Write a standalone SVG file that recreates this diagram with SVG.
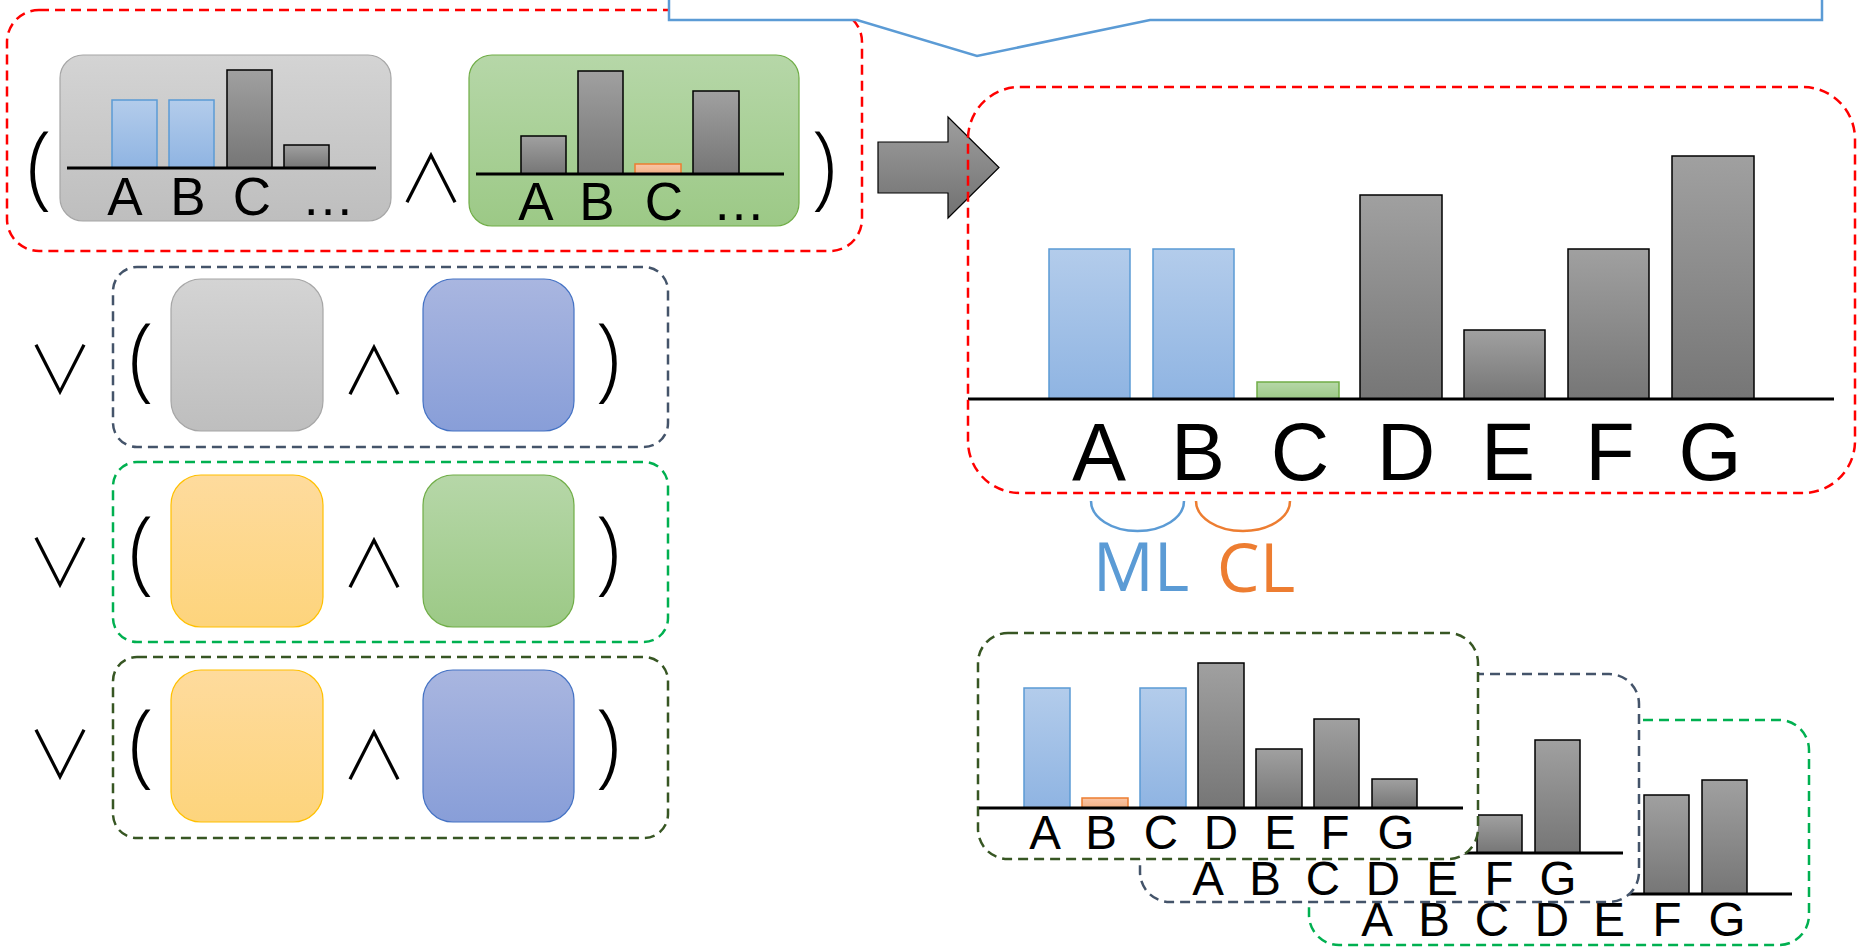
<svg xmlns="http://www.w3.org/2000/svg" width="1858" height="947" viewBox="0 0 1858 947">
  <defs>
    <linearGradient id="gBar" x1="0" y1="0" x2="0" y2="1">
      <stop offset="0" stop-color="#a0a0a0"/>
      <stop offset="1" stop-color="#767676"/>
    </linearGradient>
    <linearGradient id="gBlue" x1="0" y1="0" x2="0" y2="1">
      <stop offset="0" stop-color="#b3cceb"/>
      <stop offset="1" stop-color="#8fb4e2"/>
    </linearGradient>
    <linearGradient id="gGreen" x1="0" y1="0" x2="0" y2="1">
      <stop offset="0" stop-color="#b6d7a8"/>
      <stop offset="1" stop-color="#9cc986"/>
    </linearGradient>
    <linearGradient id="gOrange" x1="0" y1="0" x2="0" y2="1">
      <stop offset="0" stop-color="#f9c6a8"/>
      <stop offset="1" stop-color="#f4b183"/>
    </linearGradient>
    <linearGradient id="gGrayBox" x1="0" y1="0" x2="0" y2="1">
      <stop offset="0" stop-color="#d4d4d4"/>
      <stop offset="1" stop-color="#bebebe"/>
    </linearGradient>
    <linearGradient id="gBlueBox" x1="0" y1="0" x2="0" y2="1">
      <stop offset="0" stop-color="#a9b6e0"/>
      <stop offset="1" stop-color="#889ed8"/>
    </linearGradient>
    <linearGradient id="gYellow" x1="0" y1="0" x2="0" y2="1">
      <stop offset="0" stop-color="#fedb9d"/>
      <stop offset="1" stop-color="#fdd47c"/>
    </linearGradient>
    <linearGradient id="gArrow" x1="0" y1="0" x2="0" y2="1">
      <stop offset="0" stop-color="#9e9e9e"/>
      <stop offset="1" stop-color="#717171"/>
    </linearGradient>
  </defs>
  <style>
    .bar{fill:url(#gBar);stroke:#000;stroke-width:1.5}
    .bbar{fill:url(#gBlue);stroke:#5b9bd5;stroke-width:1.5}
    .gbar{fill:url(#gGreen);stroke:#70ad47;stroke-width:1.5}
    .obar{fill:url(#gOrange);stroke:#ed7d31;stroke-width:1.5}
    .axis{stroke:#000;stroke-width:3;fill:none}
    .lbl{font-family:"Liberation Sans",Arial,sans-serif;text-anchor:middle;fill:#000}
    .op{font-family:"Noto Sans CJK JP","DejaVu Sans",sans-serif;font-weight:300;font-size:66px;text-anchor:middle;fill:#000}
    .par{font-family:"Open Sans","Liberation Sans",sans-serif;font-weight:300;font-size:92px;text-anchor:middle;fill:#000}
    .dash{fill:none;stroke-width:2.5;stroke-dasharray:10 6}
    .card{fill:#fff;stroke-width:2.5;stroke-dasharray:10 6}
    .grayBox{fill:url(#gGrayBox);stroke:#a6a6a6;stroke-width:1.2}
    .greenBox{fill:url(#gGreen);stroke:#70ad47;stroke-width:1.2}
    .blueBox{fill:url(#gBlueBox);stroke:#4472c4;stroke-width:1.2}
    .yellowBox{fill:url(#gYellow);stroke:#ffc000;stroke-width:1.2}
  </style>

  <!-- first conjunction: gray histogram AND green histogram -->
  <g id="clause-1">
    <rect class="dash" x="7" y="10" width="855" height="241" rx="32" stroke="#ff0000"/>
    <text class="par" x="39" y="197">(</text>
    <g id="hist-gray">
      <rect class="grayBox" x="60" y="55" width="331" height="166" rx="23"/>
      <rect class="bbar" x="112" y="100" width="45" height="68"/>
      <rect class="bbar" x="169" y="100" width="45" height="68"/>
      <rect class="bar" x="227" y="70" width="45" height="98"/>
      <rect class="bar" x="284" y="145" width="45" height="23"/>
      <line class="axis" x1="67" y1="168" x2="376" y2="168"/>
      <g class="lbl" font-size="53">
        <text x="125" y="215">A</text>
        <text x="188" y="215">B</text>
        <text x="252" y="215">C</text>
        <text x="328" y="215">…</text>
      </g>
    </g>
    <text class="op" x="431" y="202">∧</text>
    <g id="hist-green">
      <rect class="greenBox" x="469" y="55" width="330" height="171" rx="23"/>
      <rect class="bar" x="521" y="136" width="45" height="38"/>
      <rect class="bar" x="578" y="71" width="45" height="103"/>
      <rect class="obar" x="635" y="164" width="46" height="10"/>
      <rect class="bar" x="693" y="91" width="46" height="83"/>
      <line class="axis" x1="476" y1="174" x2="784" y2="174"/>
      <g class="lbl" font-size="53">
        <text x="536" y="220">A</text>
        <text x="597" y="220">B</text>
        <text x="664" y="220">C</text>
        <text x="739" y="220">…</text>
      </g>
    </g>
    <text class="par" x="824" y="197">)</text>
  </g>

  <!-- remaining clauses -->
  <g id="clause-2">
    <rect class="dash" x="113" y="267" width="555" height="180" rx="24" stroke="#44546a"/>
    <text class="op" x="60" y="394">∨</text>
    <text class="par" x="141" y="389">(</text>
    <rect class="grayBox" x="171" y="279" width="152" height="152" rx="30"/>
    <text class="op" x="374" y="394">∧</text>
    <rect class="blueBox" x="423" y="279" width="151" height="152" rx="30"/>
    <text class="par" x="608" y="389">)</text>
  </g>
  <g id="clause-3">
    <rect class="dash" x="113" y="462" width="555" height="180" rx="24" stroke="#00b050"/>
    <text class="op" x="60" y="587">∨</text>
    <text class="par" x="141" y="582">(</text>
    <rect class="yellowBox" x="171" y="475" width="152" height="152" rx="30"/>
    <text class="op" x="374" y="587">∧</text>
    <rect class="greenBox" x="423" y="475" width="151" height="152" rx="30"/>
    <text class="par" x="608" y="582">)</text>
  </g>
  <g id="clause-4">
    <rect class="dash" x="113" y="657" width="555" height="181" rx="24" stroke="#375623"/>
    <text class="op" x="60" y="779">∨</text>
    <text class="par" x="141" y="775">(</text>
    <rect class="yellowBox" x="171" y="670" width="152" height="152" rx="30"/>
    <text class="op" x="374" y="779">∧</text>
    <rect class="blueBox" x="423" y="670" width="151" height="152" rx="30"/>
    <text class="par" x="608" y="775">)</text>
  </g>

  <!-- connectors: block arrow, callout frame, ML / CL brackets -->
  <g id="connectors">
    <polygon points="878,142 948,142 948,117 999,167.5 948,218 948,193 878,193" fill="url(#gArrow)" stroke="#000" stroke-width="1.2"/>
    <path d="M669,-10 L669,20 L857,20 L977,56 L1150,20 L1822,20 L1822,-10 Z" fill="#fff" stroke="#5b9bd5" stroke-width="2.5"/>
    <path d="M1091,501 A46.5,30 0 0 0 1184,501" fill="none" stroke="#5b9bd5" stroke-width="2.5"/>
    <path d="M1196,501 A47,30 0 0 0 1290,501" fill="none" stroke="#ed7d31" stroke-width="2.5"/>
  </g>

  <!-- merged result histogram -->
  <g id="result">
    <rect class="bbar" x="1049" y="249" width="81" height="150"/>
    <rect class="bbar" x="1153" y="249" width="81" height="150"/>
    <rect class="gbar" x="1257" y="382" width="82" height="17"/>
    <rect class="bar" x="1360" y="195" width="82" height="204"/>
    <rect class="bar" x="1464" y="330" width="81" height="69"/>
    <rect class="bar" x="1568" y="249" width="81" height="150"/>
    <rect class="bar" x="1672" y="156" width="82" height="243"/>
    <line class="axis" x1="968" y1="399" x2="1834" y2="399"/>
    <g class="lbl" font-size="81">
      <text x="1099" y="480">A</text>
      <text x="1198" y="480">B</text>
      <text x="1300" y="480">C</text>
      <text x="1406" y="480">D</text>
      <text x="1508" y="480">E</text>
      <text x="1610" y="480">F</text>
      <text x="1710" y="480">G</text>
    </g>
    <rect class="dash" x="968" y="87" width="887" height="406" rx="52" stroke="#ff0000"/>
  </g>

  <g id="links-label">
    <text x="1141" y="591" font-family="'Open Sans',sans-serif" font-size="68" text-anchor="middle" fill="#5b9bd5">ML</text>
    <text x="1256" y="592" font-family="'Open Sans',sans-serif" font-size="68" text-anchor="middle" fill="#ed7d31">CL</text>
  </g>

  <!-- stacked candidate histograms, back to front -->
  <g id="card-back">
    <rect class="card" x="1309" y="720" width="500" height="225" rx="30" stroke="#00b050"/>
    <rect class="bar" x="1644" y="795" width="45" height="99"/>
    <rect class="bar" x="1702" y="780" width="45" height="114"/>
    <line class="axis" x1="1309" y1="894" x2="1792" y2="894"/>
    <g class="lbl" font-size="47.5">
      <text x="1377" y="936">A</text>
      <text x="1434" y="936">B</text>
      <text x="1492" y="936">C</text>
      <text x="1552" y="936">D</text>
      <text x="1609" y="936">E</text>
      <text x="1667" y="936">F</text>
      <text x="1727" y="936">G</text>
    </g>
  </g>
  <g id="card-middle">
    <rect class="card" x="1140" y="674" width="499" height="228" rx="30" stroke="#44546a"/>
    <rect class="bar" x="1477" y="815" width="45" height="38"/>
    <rect class="bar" x="1535" y="740" width="45" height="113"/>
    <line class="axis" x1="1140" y1="853" x2="1623" y2="853"/>
    <g class="lbl" font-size="47.5">
      <text x="1208" y="895">A</text>
      <text x="1265" y="895">B</text>
      <text x="1323" y="895">C</text>
      <text x="1383" y="895">D</text>
      <text x="1442" y="895">E</text>
      <text x="1499" y="895">F</text>
      <text x="1558" y="895">G</text>
    </g>
  </g>
  <g id="card-front">
    <rect class="card" x="978" y="633" width="500" height="226" rx="30" stroke="#375623"/>
    <rect class="bbar" x="1024" y="688" width="46" height="120"/>
    <rect class="obar" x="1082" y="798" width="46" height="10"/>
    <rect class="bbar" x="1140" y="688" width="46" height="120"/>
    <rect class="bar" x="1198" y="663" width="46" height="145"/>
    <rect class="bar" x="1256" y="749" width="46" height="59"/>
    <rect class="bar" x="1314" y="719" width="45" height="89"/>
    <rect class="bar" x="1372" y="779" width="45" height="29"/>
    <line class="axis" x1="979" y1="808" x2="1463" y2="808"/>
    <g class="lbl" font-size="47.5">
      <text x="1045" y="849">A</text>
      <text x="1101" y="849">B</text>
      <text x="1161" y="849">C</text>
      <text x="1221" y="849">D</text>
      <text x="1280" y="849">E</text>
      <text x="1335" y="849">F</text>
      <text x="1396" y="849">G</text>
    </g>
  </g>
</svg>
